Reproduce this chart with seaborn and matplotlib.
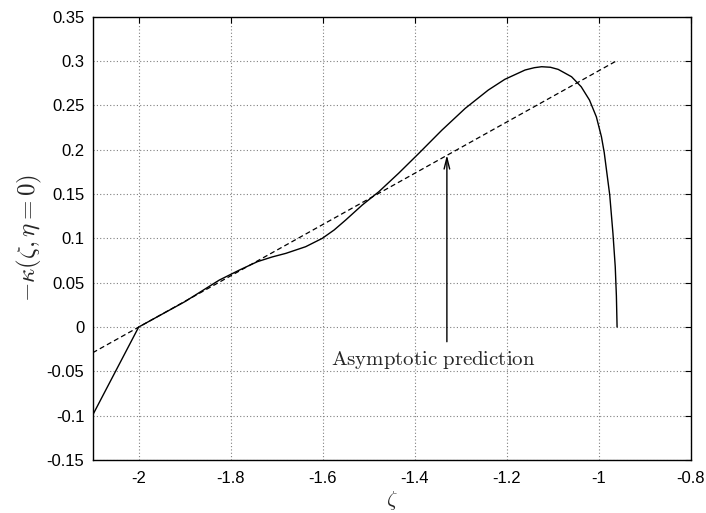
import numpy as np
import pandas as pd
import matplotlib
matplotlib.use("Agg")
import matplotlib.pyplot as plt
import seaborn as sns

# Numerical solution (solid)
zeta_num = [-2.1, -2.0, -1.9, -1.8246, -1.78, -1.742, -1.71, -1.680, -1.637, -1.601,
            -1.575, -1.550, -1.514, -1.478, -1.435, -1.391, -1.341, -1.290, -1.240,
            -1.204, -1.160, -1.140, -1.124, -1.105, -1.088, -1.059, -1.038, -1.020,
            -1.005, -0.994, -0.988, -0.9835, -0.976, -0.969, -0.964, -0.9615, -0.960]
kappa_num = [-0.0993, 0.0, 0.0285, 0.053, 0.0645, 0.0737, 0.0790, 0.0831, 0.0906, 0.100,
             0.1095, 0.1207, 0.1376, 0.1526, 0.1734, 0.1959, 0.222, 0.2467, 0.2673,
             0.2794, 0.2899, 0.2925, 0.2936, 0.2930, 0.2906, 0.2823, 0.271, 0.256,
             0.237, 0.2146, 0.197, 0.179, 0.149, 0.1057, 0.068, 0.035, 0.0]

# Asymptotic prediction (dashed)
zeta_asym = [-2.1, -0.962]
kappa_asym = [-0.029, 0.300]

xticks = [-2, -1.8, -1.6, -1.4, -1.2, -1, -0.8]
xtick_labels = ["-2", "-1.8", "-1.6", "-1.4", "-1.2", "-1", "-0.8"]
yticks = [-0.15, -0.1, -0.05, 0, 0.05, 0.1, 0.15, 0.2, 0.25, 0.3, 0.35]
ytick_labels = ["-0.15", "-0.1", "-0.05", "0", "0.05", "0.1", "0.15", "0.2", "0.25", "0.3", "0.35"]

annot_text = "Asymptotic prediction"
annot_xy = (-1.330, 0.194)
annot_tail = (-1.330, -0.0166)
annot_text_pos = (-1.359, -0.037)

sns.set_style("white")
plt.rcParams["font.family"] = ["Liberation Sans", "DejaVu Sans"]
plt.rcParams["mathtext.fontset"] = "cm"

fig = plt.figure(figsize=(7.06, 5.13), dpi=100)
ax = fig.add_axes([0.1313, 0.1033, 0.8470, 0.8641])

df_num = pd.DataFrame({"zeta": zeta_num, "kappa": kappa_num})
df_asym = pd.DataFrame({"zeta": zeta_asym, "kappa": kappa_asym})

sns.lineplot(data=df_num, x="zeta", y="kappa", ax=ax, color="black", lw=1.0,
             sort=False, estimator=None)
sns.lineplot(data=df_asym, x="zeta", y="kappa", ax=ax, color="black", lw=0.9,
             linestyle=(0, (4, 2.5)), sort=False, estimator=None)

ax.set_xlim(-2.1, -0.8)
ax.set_ylim(-0.15, 0.35)
ax.set_xticks(xticks)
ax.set_xticklabels(xtick_labels)
ax.set_yticks(yticks)
ax.set_yticklabels(ytick_labels)

ax.grid(True, linestyle=(0, (1, 2)), color="#808080", lw=0.8)
ax.tick_params(direction="in", length=4, width=0.8, top=True, right=True,
               labelsize=12, colors="black", pad=6)
ax.tick_params(axis="x", pad=8)
for s in ax.spines.values():
    s.set_visible(True)
    s.set_color("black")
    s.set_linewidth(1.0)

ax.set_xlabel(r"$\zeta$", fontsize=15, labelpad=2)
ax.set_ylabel(r"$-\kappa(\zeta,\eta=0)$", fontsize=18, labelpad=2)

ax.annotate("", xy=annot_xy, xytext=annot_tail,
            arrowprops=dict(arrowstyle="->,head_length=0.8,head_width=0.2",
                            color="black", lw=1.0, shrinkA=0, shrinkB=0))
ax.text(annot_text_pos[0], annot_text_pos[1], r"$\mathrm{Asymptotic\ prediction}$",
        ha="center", va="center", fontsize=15)

fig.savefig("out.png", dpi=100)
